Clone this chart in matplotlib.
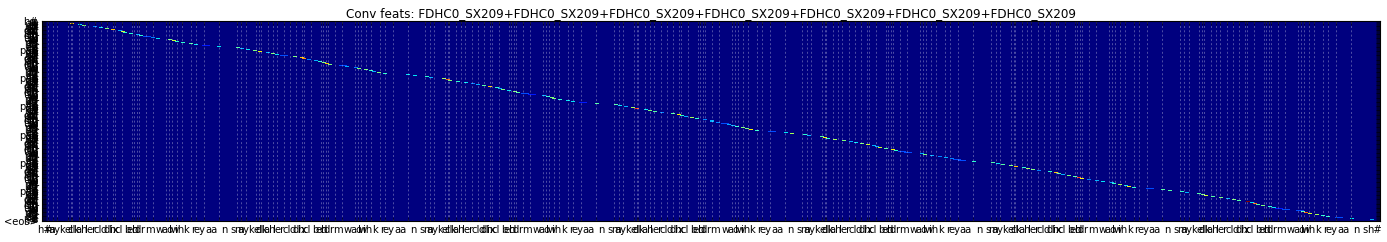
import matplotlib
matplotlib.use('Agg')
import matplotlib.pyplot as plt
import numpy as np

title = 'Conv feats: FDHC0_SX209+FDHC0_SX209+FDHC0_SX209+FDHC0_SX209+FDHC0_SX209+FDHC0_SX209+FDHC0_SX209'

n_cols = 1338
n_rows = 200
n_repeats = 7
repeat_frames = 188.6

# phone boundaries of one utterance, in frames
phone_starts = [0, 6, 10.7, 15, 25.7, 28.7, 30, 37, 42, 46, 53, 59, 65, 71, 73, 80, 90, 92, 95, 97,
                104, 111, 124, 127, 130, 135, 140, 149, 154, 162, 177, 188]
phones = ['h#', 'm', 'ay', 'k', 'el', 'cl', 'k', 'ah', 'l', 'er', 'cl', 'd', 'dh', 'ix', 'cl', 'b',
          'eh', 'cl', 'd', 'r', 'm', 'w', 'ao', 'l', 'w', 'ih', 'k', 'r', 'ey', 'aa', 'n', 's']

# y labels, several per pixel row
row_unit = ['m', 'ay', 'k', 'el', 'kcl', 'k', 'ah', 'l', 'er', 'dcl', 'd', 'dh', 'ix', 'bcl', 'b',
            'eh', 'dcl', 'd', 'r', 'uw', 'm', 'w', 'ao', 'l', 'w', 'ih', 'th', 'kcl', 'k', 'r',
            'ey', 'aa', 'n', 's', 'pau']

# alignment: brightest column of each row, and its value
align_rows = [1] + list(range(3, 199))
align_cols = [
    24, 30, 38, 42, 53, 59, 65, 71, 78, 81, 83, 89, 96, 99, 105, 111, 116, 128, 132, 135, 141, 149,
    154, 164, 177, 196, 200, 206, 213, 218, 226,
    231, 235, 242, 253, 260, 262, 267, 274, 278, 282, 285, 288, 301, 305, 314, 317, 324, 329, 332,
    337, 343, 366, 373, 385, 389, 402, 406, 408, 416, 424, 431, 436, 442, 448, 455,
    458, 461, 467, 473, 476, 483, 490, 502, 506, 510, 512, 518, 526, 531, 541, 555, 574, 578, 584,
    591, 595, 604, 608, 613, 620, 631, 637, 640, 644, 650, 655, 663, 670, 676, 683, 687,
    691, 695, 701, 705, 709, 715, 730, 744, 750, 763, 767, 780, 783, 786, 793, 802, 809, 814, 820,
    826, 832, 835, 838, 844, 851, 854, 860, 866, 880, 883, 890, 898, 904, 910, 915,
    920, 932, 951, 956, 961, 969, 974, 982, 986, 991, 997, 1008, 1014, 1017, 1021, 1027, 1033, 1037,
    1040, 1047, 1055, 1061, 1070, 1072, 1078, 1084, 1087, 1092, 1108, 1121,
    1128, 1140, 1145, 1157, 1161, 1164, 1171, 1179, 1186, 1192, 1197, 1206, 1210, 1213, 1216, 1221,
    1228, 1232, 1237, 1244, 1258, 1261, 1264, 1268, 1275, 1281, 1286, 1297, 1310, 1330]
align_vals = [
    .5, .7, .35, .5, .25, .35, .5, .7, .3, .6, .4, .4, .3, .4, .2, .25, .35, .5, .6, .4, .4, .45,
    .35, .15, .35, .45, .3, .35, .5, .65, .3,
    .5, .35, .2, .5, .7, .75, .25, .3, .4, .5, .7, .5, .2, .3, .25, .5, .5, .4, .3,
    .5, .4, .35, .35, .4, .3, .55, .8, .5, .4, .35, .25, .3, .45, .7, .4,
    .3, .5, .35, .5, .45, .2, .15, .3, .4, .5, .5, .4, .35, .35, .15, .45, .45, .35, .3,
    .55, .85, .35, .5, .45, .25, .45, .65, .4, .3, .55, .4, .25, .3, .25, .2, .3,
    .3, .4, .5, .5, .65, .4, .2, .35, .55, .4, .3, .45, .65, .4, .55, .5, .3, .35, .5,
    .6, .3, .3, .6, .45, .65, .4, .2, .2, .3, .5, .3, .25, .3, .25, .2,
    .2, .4, .45, .35, .45, .5, .7, .4, .55, .5, .25, .4, .7, .45, .3, .5, .45, .85,
    .65, .25, .3, .35, .3, .4, .55, .35, .65, .4, .2, .45,
    .45, .4, .3, .45, .5, .6, .45, .5, .3, .5, .45, 1.0, .35, .8, .45, .5,
    .4, .35, .15, .2, .2, .45, .8, .6, .55, .4, .4, .2, .35, .3]

plt.rcParams['xtick.direction'] = 'in'
plt.rcParams['ytick.direction'] = 'in'
plt.rcParams['xtick.top'] = True
plt.rcParams['ytick.right'] = True
plt.rcParams['font.size'] = 7.2

feats = np.zeros((n_rows, n_cols))
for row, col, val in zip(align_rows, align_cols, align_vals):
    # weak activations are spread over more frames
    half = 4 if val < .22 else 2
    feats[row, max(col - half, 0):col + half] = val

# the utterance is concatenated with itself
grid_x = []
label_x = []
label_txt = []
for k in range(n_repeats):
    off = k * repeat_frames
    ends = phone_starts[1:] + [phone_starts[0] + repeat_frames + 6]
    for i in range(1, len(phones)):
        # no visible boundary before the last phone
        if i < len(phones) - 1:
            grid_x.append(off + phone_starts[i])
        label_x.append(off + (phone_starts[i] + ends[i]) / 2)
        label_txt.append(phones[i])
label_x = [3] + label_x + [1332]
label_txt = ['h#'] + label_txt + ['h#']

row_labels = ['h#'] + row_unit * 7
row_labels = row_labels[:-1] + ['h#', '<eos>']

fig = plt.figure(figsize=(13.87, 2.42), dpi=100)
ax = fig.add_axes([42 / 1387, 1 - 221 / 242, 1338 / 1387, 200 / 242])
ax.imshow(feats, cmap='jet', vmin=0, vmax=1, aspect='auto', interpolation='nearest',
          extent=(0, n_cols, n_rows, 0))

ax.set_xticks(grid_x)
ax.set_xticklabels([])
ax.set_xticks(label_x, minor=True)
ax.set_xticklabels(label_txt, minor=True, fontsize=7.2)
ax.tick_params(axis='x', which='minor', length=0, pad=3)
ax.tick_params(axis='x', which='major', length=2.9, width=.4, color='k')
ax.grid(axis='x', which='major', color='w', alpha=.3, linewidth=.72, linestyle=(0, (2, 2.3)))

ax.set_yticks(np.linspace(.5, n_rows - .5, len(row_labels)))
ax.set_yticklabels(row_labels, fontsize=7.2)
ax.tick_params(axis='y', length=2.9, width=.4, pad=3)

ax.set_xlim(0, n_cols)
ax.set_ylim(n_rows, 0)
ax.set_title(title, fontsize=8.64, pad=3)

fig.savefig('out.png', dpi=100)
